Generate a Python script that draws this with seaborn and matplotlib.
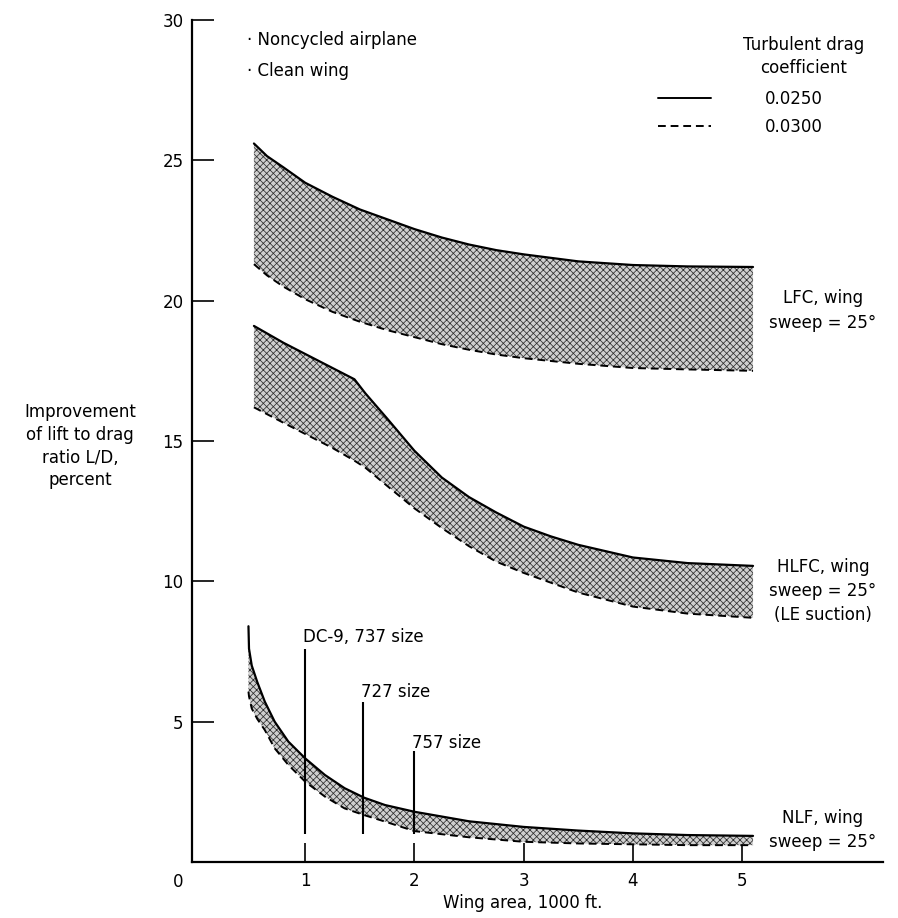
import numpy as np
import pandas as pd
import matplotlib
matplotlib.use("Agg")
import matplotlib.pyplot as plt
from matplotlib.lines import Line2D
import seaborn as sns

# LFC band
lfc_x = [0.53, 0.65, 0.8, 1.0, 1.25, 1.5, 1.75, 2.0, 2.25, 2.5, 2.75, 3.0, 3.5, 4.0, 4.5, 5.1]
lfc_upper = [25.6, 25.15, 24.75, 24.2, 23.7, 23.25, 22.9, 22.55, 22.25, 22.0, 21.8, 21.65,
             21.4, 21.27, 21.22, 21.2]
lfc_lower = [21.3, 20.9, 20.5, 20.05, 19.6, 19.25, 18.95, 18.7, 18.45, 18.25, 18.08, 17.95,
             17.75, 17.6, 17.55, 17.5]

# HLFC band
hlfc_x = [0.53, 0.8, 1.0, 1.25, 1.45, 1.55, 1.75, 2.0, 2.25, 2.5, 2.75, 3.0, 3.25, 3.5, 4.0, 4.5, 5.1]
hlfc_upper = [19.1, 18.5, 18.1, 17.6, 17.2, 16.7, 15.8, 14.65, 13.7, 13.0, 12.45, 11.95,
              11.6, 11.3, 10.85, 10.65, 10.55]
hlfc_lower = [16.2, 15.65, 15.25, 14.75, 14.3, 14.05, 13.4, 12.6, 11.9, 11.25, 10.7, 10.3,
              9.95, 9.6, 9.1, 8.85, 8.7]

# NLF band
nlf_x = [0.48, 0.485, 0.51, 0.56, 0.63, 0.72, 0.845, 1.0, 1.18, 1.36, 1.54, 1.73, 2.0,
         2.5, 3.0, 3.5, 4.0, 4.5, 5.1]
nlf_upper = [8.4, 7.6, 7.0, 6.42, 5.71, 5.0, 4.29, 3.69, 3.1, 2.63, 2.29, 2.03, 1.79,
             1.45, 1.25, 1.12, 1.02, 0.96, 0.93]
nlf_lower = [6.07, 5.9, 5.47, 5.1, 4.7, 4.05, 3.46, 2.86, 2.33, 1.91, 1.67, 1.44, 1.1,
             0.88, 0.72, 0.66, 0.63, 0.6, 0.6]

# airplane size markers
size_labels = ["DC-9, 737 size", "727 size", "757 size"]
size_x = [1.0, 1.53, 2.0]
size_top = [7.6, 5.7, 3.95]
size_bottom = [1.0, 1.0, 1.0]
size_label_y = [8.0, 6.05, 4.25]

drag_labels = ["0.0250", "0.0300"]
x_ticks = [1, 2, 3, 4, 5]
y_ticks = [5, 10, 15, 20, 25, 30]

bands = [
    ("LFC", lfc_x, lfc_upper, lfc_lower, "LFC, wing\nsweep = 25°", 5.74, 19.65),
    ("HLFC", hlfc_x, hlfc_upper, hlfc_lower, "HLFC, wing\nsweep = 25°\n(LE suction)", 5.74, 9.65),
    ("NLF", nlf_x, nlf_upper, nlf_lower, "NLF, wing\nsweep = 25°", 5.74, 1.14),
]

sns.set_style("ticks")
plt.rcParams["font.family"] = ["DejaVu Sans"]
plt.rcParams["hatch.linewidth"] = 0.55
plt.rcParams["hatch.color"] = "#303030"
for k in ["text.color", "axes.labelcolor", "xtick.color", "ytick.color"]:
    plt.rcParams[k] = "black"

fs = 12
fig = plt.figure(figsize=(8.98, 9.18), dpi=100)
ax = fig.add_axes([192 / 898, 56 / 918, 691 / 898, 842 / 918])

for name, bx, up, lo, label, lx, ly in bands:
    ax.fill_between(bx, lo, up, facecolor="#cfcfcf", edgecolor="#303030",
                    hatch="xxxxx", linewidth=0)
    df = pd.DataFrame({"x": bx, "upper": up, "lower": lo})
    sns.lineplot(data=df, x="x", y="upper", color="black", lw=1.6,
                 estimator=None, sort=False, ax=ax)
    sns.lineplot(data=df, x="x", y="lower", color="black", lw=1.4,
                 linestyle=(0, (4, 2.5)), estimator=None, sort=False, ax=ax)
    ax.text(lx, ly, label, ha="center", va="center", fontsize=fs,
            linespacing=1.45, multialignment="center")

ax.vlines(size_x, size_bottom, size_top, color="black", lw=1.5)
for lab, sx, sy in zip(size_labels, size_x, size_label_y):
    ax.text(sx - 0.02, sy, lab, ha="left", va="center", fontsize=fs)

ax.text(0.47, 29.28, "· Noncycled airplane", ha="left", va="center", fontsize=fs)
ax.text(0.47, 28.2, "· Clean wing", ha="left", va="center", fontsize=fs)
ax.text(5.56, 28.7, "Turbulent drag\ncoefficient", ha="center", va="center",
        fontsize=fs, linespacing=1.4)

handles = [Line2D([], [], color="black", lw=1.4),
           Line2D([], [], color="black", lw=1.4, linestyle=(0, (4, 2.5)))]
ax.legend(handles, drag_labels, loc="upper left", frameon=False,
          bbox_to_anchor=(658 / 898, 1 - 90 / 918), bbox_transform=fig.transFigure,
          fontsize=fs, handlelength=3.2, handletextpad=3.2, labelspacing=0.6,
          borderpad=0, borderaxespad=0)

ax.set_xlim(-0.037, 6.29)
ax.set_ylim(0, 30)
ax.set_xticks(x_ticks)
ax.set_yticks(y_ticks)
ax.set_yticklabels([str(t) for t in y_ticks])
ax.tick_params(axis="both", direction="in", width=1.2, labelsize=fs, color="black")
ax.tick_params(axis="y", length=16, pad=6)
ax.tick_params(axis="x", length=14, pad=7)
sns.despine(ax=ax)
for s in ["left", "bottom"]:
    ax.spines[s].set_linewidth(1.6)
    ax.spines[s].set_color("black")

# origin label sits left of the axis corner
ax.text(-0.165, -0.72, "0", ha="center", va="center", fontsize=fs)

ax.set_xlabel("Wing area, 1000 ft.", fontsize=fs)
ax.xaxis.set_label_coords(0.479, -0.038)
ax.set_ylabel("Improvement\nof lift to drag\nratio L/D,\npercent", fontsize=fs,
              rotation=0, ha="center", va="center", linespacing=1.35)
ax.yaxis.set_label_coords(-0.162, 0.494)

fig.savefig("out.png", dpi=100)
